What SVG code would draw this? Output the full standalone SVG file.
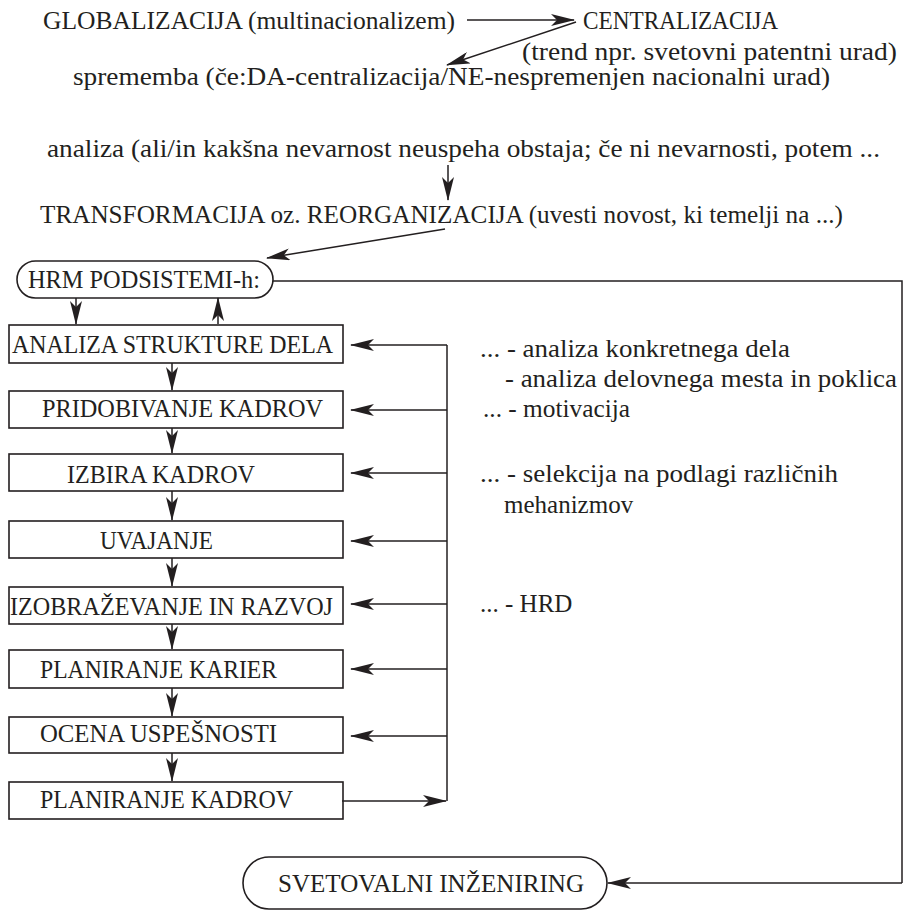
<svg xmlns="http://www.w3.org/2000/svg" width="905" height="922" viewBox="0 0 905 922">
<style>
text{font-family:"Liberation Serif","Times New Roman",serif;font-size:25px;fill:#231f20}
.box{fill:#fff;stroke:#231f20;stroke-width:1.6}
.c{fill:none;stroke:#231f20;stroke-width:1.5}
.ca{fill:none;stroke:#231f20;stroke-width:1.5;marker-end:url(#ah)}
</style>
<defs>
<marker id="ah" markerUnits="userSpaceOnUse" markerWidth="24" markerHeight="12" viewBox="0 0 24 12" refX="23" refY="6" orient="auto">
<path d="M0,0 L24,6 L0,12 L6,6 z" fill="#231f20"/>
</marker>
</defs>
<rect width="905" height="922" fill="#fff"/>
<g id="top-texts">
<text x="43" y="29" textLength="412" lengthAdjust="spacingAndGlyphs">GLOBALIZACIJA (multinacionalizem)</text>
<text x="583" y="29" textLength="195" lengthAdjust="spacingAndGlyphs">CENTRALIZACIJA</text>
<text x="522" y="60" font-size="24" textLength="375" lengthAdjust="spacingAndGlyphs">(trend npr. svetovni patentni urad)</text>
<text x="73" y="85" font-size="24" textLength="757" lengthAdjust="spacingAndGlyphs">sprememba (če:DA-centralizacija/NE-nespremenjen nacionalni urad)</text>
<text x="47" y="157" textLength="833" lengthAdjust="spacingAndGlyphs">analiza (ali/in kakšna nevarnost neuspeha obstaja; če ni nevarnosti, potem ...</text>
<text x="40" y="223" textLength="803" lengthAdjust="spacingAndGlyphs">TRANSFORMACIJA oz. REORGANIZACIJA (uvesti novost, ki temelji na ...)</text>
</g>
<g id="hrm">
<rect class="box" x="17" y="261" width="256" height="37" rx="18.5"/>
<text x="28" y="288" textLength="232" lengthAdjust="spacingAndGlyphs">HRM PODSISTEMI-h:</text>
</g>
<g id="n1"><rect class="box" x="9" y="325" width="334" height="38"/><text x="12" y="353" textLength="321" lengthAdjust="spacingAndGlyphs">ANALIZA STRUKTURE DELA</text></g>
<g id="n2"><rect class="box" x="9" y="391" width="334" height="37"/><text x="42" y="417" textLength="281" lengthAdjust="spacingAndGlyphs">PRIDOBIVANJE KADROV</text></g>
<g id="n3"><rect class="box" x="9" y="454" width="334" height="37"/><text x="67" y="483" textLength="188" lengthAdjust="spacingAndGlyphs">IZBIRA KADROV</text></g>
<g id="n4"><rect class="box" x="9" y="521" width="334" height="37"/><text x="100" y="549" textLength="113" lengthAdjust="spacingAndGlyphs">UVAJANJE</text></g>
<g id="n5"><rect class="box" x="9" y="587" width="334" height="37"/><text x="10" y="615" textLength="323" lengthAdjust="spacingAndGlyphs">IZOBRAŽEVANJE IN RAZVOJ</text></g>
<g id="n6"><rect class="box" x="9" y="650" width="334" height="38"/><text x="40" y="678" textLength="237" lengthAdjust="spacingAndGlyphs">PLANIRANJE KARIER</text></g>
<g id="n7"><rect class="box" x="9" y="717" width="334" height="36"/><text x="40" y="742" textLength="237" lengthAdjust="spacingAndGlyphs">OCENA USPEŠNOSTI</text></g>
<g id="n8"><rect class="box" x="9" y="782" width="334" height="37"/><text x="40" y="808" textLength="253" lengthAdjust="spacingAndGlyphs">PLANIRANJE KADROV</text></g>
<g id="side-notes">
<text x="480" y="357" textLength="310" lengthAdjust="spacingAndGlyphs">... - analiza konkretnega dela</text>
<text x="505" y="387" textLength="392" lengthAdjust="spacingAndGlyphs">- analiza delovnega mesta in poklica</text>
<text x="483" y="417" textLength="147" lengthAdjust="spacingAndGlyphs">... - motivacija</text>
<text x="480" y="482" textLength="358" lengthAdjust="spacingAndGlyphs">...  - selekcija na podlagi različnih</text>
<text x="504" y="513">mehanizmov</text>
<text x="480" y="612">...  - HRD</text>
</g>
<g id="svetovalni">
<rect class="box" x="243" y="857" width="364" height="52" rx="26"/>
<text x="278" y="892" textLength="306" lengthAdjust="spacingAndGlyphs">SVETOVALNI INŽENIRING</text>
</g>
<g id="connectors">
<line class="ca" x1="467" y1="20" x2="574" y2="20"/>
<line class="ca" x1="576" y1="22" x2="447" y2="65"/>
<line class="ca" x1="448" y1="165" x2="448" y2="200"/>
<line class="ca" x1="445" y1="229" x2="267" y2="258"/>
<line class="ca" x1="76" y1="298" x2="76" y2="324"/>
<line class="ca" x1="218" y1="324" x2="218" y2="298"/>
<line class="ca" x1="172" y1="363" x2="172" y2="390"/>
<line class="ca" x1="172" y1="428" x2="172" y2="453"/>
<line class="ca" x1="172" y1="491" x2="172" y2="520"/>
<line class="ca" x1="172" y1="558" x2="172" y2="586"/>
<line class="ca" x1="172" y1="624" x2="172" y2="649"/>
<line class="ca" x1="172" y1="688" x2="172" y2="716"/>
<line class="ca" x1="172" y1="753" x2="172" y2="781"/>
<polyline class="c" points="447,345 447,801"/>
<line class="ca" x1="342" y1="801" x2="446" y2="801"/>
<line class="ca" x1="447" y1="345" x2="351" y2="345"/>
<line class="ca" x1="447" y1="410" x2="351" y2="410"/>
<line class="ca" x1="447" y1="473" x2="351" y2="473"/>
<line class="ca" x1="447" y1="541" x2="351" y2="541"/>
<line class="ca" x1="447" y1="604" x2="351" y2="604"/>
<line class="ca" x1="447" y1="669" x2="351" y2="669"/>
<line class="ca" x1="447" y1="736" x2="351" y2="736"/>
<polyline class="c" points="273,281 902,281 902,883"/>
<line class="ca" x1="902" y1="883" x2="608" y2="883"/>
</g>
</svg>
